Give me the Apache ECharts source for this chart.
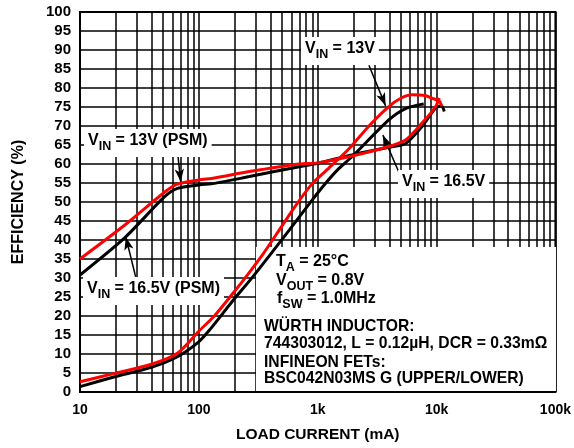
<!DOCTYPE html>
<html>
<head>
<meta charset="utf-8">
<script src="https://cdn.jsdelivr.net/npm/echarts@6/dist/echarts.min.js"></script>
<style>html,body{margin:0;padding:0;background:#fff;}#c{width:574px;height:448px;}</style>
</head>
<body>
<div id="c"></div>
<script>
// ---- data (load current mA, efficiency %) ----
const psm13X = [10, 24, 52, 66, 100, 135, 266, 700, 1000, 1941, 3963, 5486, 7516, 9770, 10540];
const psm13Y = [35, 44, 52.7, 54.7, 55.8, 56.3, 58, 60, 60.3, 62.1, 64.6, 66.3, 70.7, 75, 77.4];

const psm165X = [10, 24, 51.5, 66, 100, 135, 266, 700, 1000, 1941, 3963, 5486, 7516, 9770, 10960, 11610];
const psm165Y = [30.8, 40.7, 51.4, 53.6, 54.5, 54.9, 56.7, 59.3, 60.2, 62.4, 64.4, 65.4, 69.8, 74.7, 75.3, 73.8];

const fr13X = [10, 19.6, 39.8, 66, 100, 135, 200, 249, 350, 474, 650, 903, 1170, 1833, 2700, 3963, 5000, 6226, 8000, 9141, 10500, 11100];
const fr13Y = [2.7, 4.9, 7.3, 10.2, 16, 20, 26.5, 30.3, 36.5, 42.6, 49, 54.9, 58.2, 64, 70, 75.1, 77.3, 78.2, 78, 77.3, 76.6, 75.2];

const fr165X = [10, 19.6, 39.8, 66, 98, 123, 193, 284, 576, 897, 1170, 1462, 1941, 3963, 5486, 7800];
const fr165Y = [1.4, 4.0, 6.5, 9.3, 13, 16.3, 24, 30.3, 42.6, 50.5, 55, 58.4, 61.9, 71.6, 74.6, 75.8];

const xTickLabels = {10: '10', 100: '100', 1000: '1k', 10000: '10k', 100000: '100k'};
const minorTicks = [20,30,40,50,60,70,80,90,200,300,400,500,600,700,800,900,
  2000,3000,4000,5000,6000,7000,8000,9000,20000,30000,40000,50000,60000,70000,80000,90000];

// arrows: [fromX, fromY, toX, toY]
const arrowFromX = [66.2, 29.4, 2697, 4809];
const arrowFromY = [63.2, 30.3, 86, 57.9];
const arrowToX = [70.3, 24.3, 3724, 3532];
const arrowToY = [55.3, 40.8, 75.3, 67.6];

const FONT = '"Liberation Sans", Arial, Helvetica, sans-serif';
const RED = '#ff0000';

function pairs(xs, ys) { return xs.map((x, i) => [x, ys[i]]); }

function subRich(main, sub, rest) {
  return {
    text: '{b|' + main + '}{s|' + sub + '}{b|' + rest + '}',
    rich: {
      b: {fontSize: 16, fontWeight: 'bold', fontFamily: FONT, fill: '#000', verticalAlign: 'bottom', padding: [0, 0, 4, 0]},
      s: {fontSize: 12.5, fontWeight: 'bold', fontFamily: FONT, fill: '#000', verticalAlign: 'bottom'}
    }
  };
}
function boxLabel(x, y, rest) {
  return {
    type: 'text', zlevel: 1, z: 1, x: x, y: y,
    style: Object.assign({backgroundColor: '#fff', padding: [4, 4, 4, 4]}, subRich('V', 'IN', rest))
  };
}
function plain(x, y, t) {
  return {type: 'text', zlevel: 1, z: 2, x: x, y: y,
    style: {text: t, fontSize: 15.7, fontWeight: 'bold', fontFamily: FONT, fill: '#000'}};
}

const chart = echarts.init(document.getElementById('c'), null, {renderer: 'canvas'});

const lineStyleCommon = {width: 3};
const option = {
  animation: false,
  backgroundColor: '#fff',
  grid: {left: 80, top: 12, right: 17, bottom: 56, show: true, borderColor: '#000', borderWidth: 2, backgroundColor: 'transparent'},
  xAxis: {
    type: 'log', min: 10, max: 100000, logBase: 10,
    axisLine: {show: false}, axisTick: {show: false},
    splitLine: {show: true, lineStyle: {color: '#000', width: 1.5}},
    axisLabel: {
      margin: 11, color: '#000', fontSize: 14, fontWeight: 'bold', fontFamily: FONT,
      formatter: v => xTickLabels[Math.round(v)] || ''
    },
    name: 'LOAD CURRENT (mA)', nameLocation: 'middle', nameGap: 35,
    nameTextStyle: {color: '#000', fontSize: 15.5, fontWeight: 'bold', fontFamily: FONT}
  },
  yAxis: {
    type: 'value', min: 0, max: 100, interval: 5,
    axisLine: {show: false}, axisTick: {show: false},
    splitLine: {show: true, lineStyle: {color: '#000', width: 1.5}},
    axisLabel: {margin: 9, color: '#000', fontSize: 15, fontWeight: 'bold', fontFamily: FONT},
    name: 'EFFICIENCY (%)', nameLocation: 'middle', nameGap: 53,
    nameTextStyle: {color: '#000', fontSize: 16, fontWeight: 'bold', fontFamily: FONT}
  },
  graphic: {
    zlevel: 1,
    elements: [
      {type: 'rect', zlevel: 1, z: 0, shape: {x: 256, y: 247, width: 300, height: 144}, style: {fill: '#fff'}},
      boxLabel(84, 129, ' = 13V (PSM)'),
      boxLabel(83, 277, ' = 16.5V (PSM)'),
      boxLabel(301, 37, ' = 13V'),
      boxLabel(398, 170, ' = 16.5V'),
      {type: 'text', zlevel: 1, z: 2, x: 276, y: 254, style: subRich('T', 'A', ' = 25°C')},
      {type: 'text', zlevel: 1, z: 2, x: 276, y: 273, style: subRich('V', 'OUT', ' = 0.8V')},
      {type: 'text', zlevel: 1, z: 2, x: 277, y: 291, style: subRich('f', 'SW', ' = 1.0MHz')},
      plain(264, 319, 'WÜRTH INDUCTOR:'),
      plain(264, 336, '744303012, L = 0.12µH, DCR = 0.33mΩ'),
      plain(264, 355, 'INFINEON FETs:'),
      plain(264, 371, 'BSC042N03MS G (UPPER/LOWER)')
    ]
  },
  series: [
    {
      name: 'grid', type: 'line', data: [], z: 0, zlevel: 0, silent: true,
      markLine: {
        silent: true, symbol: ['none', 'none'], animation: false,
        label: {show: false},
        lineStyle: {color: '#000', width: 1.5, type: 'solid'},
        emphasis: {disabled: true},
        data: minorTicks.map(v => ({xAxis: v}))
      }
    },
    {name: 'VIN=16.5V PSM', type: 'line', zlevel: 2, z: 3, data: pairs(psm165X, psm165Y), smooth: 0.25, showSymbol: false, lineStyle: Object.assign({color: '#000'}, lineStyleCommon)},
    {name: 'VIN=16.5V', type: 'line', zlevel: 2, z: 3, data: pairs(fr165X, fr165Y), smooth: 0.25, showSymbol: false, lineStyle: Object.assign({color: '#000'}, lineStyleCommon)},
    {name: 'VIN=13V PSM', type: 'line', zlevel: 2, z: 4, data: pairs(psm13X, psm13Y), smooth: 0.25, showSymbol: false, lineStyle: Object.assign({color: RED}, lineStyleCommon)},
    {name: 'VIN=13V', type: 'line', zlevel: 2, z: 4, data: pairs(fr13X, fr13Y), smooth: 0.25, showSymbol: false, lineStyle: Object.assign({color: RED}, lineStyleCommon)},
    {
      name: 'arrows', type: 'line', data: [], zlevel: 2, z: 6, silent: true,
      markLine: {
        silent: true, symbol: ['none', 'arrow'], symbolSize: [7, 13], animation: false,
        label: {show: false},
        lineStyle: {color: '#000', width: 1.5, type: 'solid'},
        emphasis: {disabled: true},
        data: arrowFromX.map((x, i) => [{coord: [x, arrowFromY[i]]}, {coord: [arrowToX[i], arrowToY[i]]}])
      }
    }
  ]
};
chart.setOption(option);
</script>
</body>
</html>
